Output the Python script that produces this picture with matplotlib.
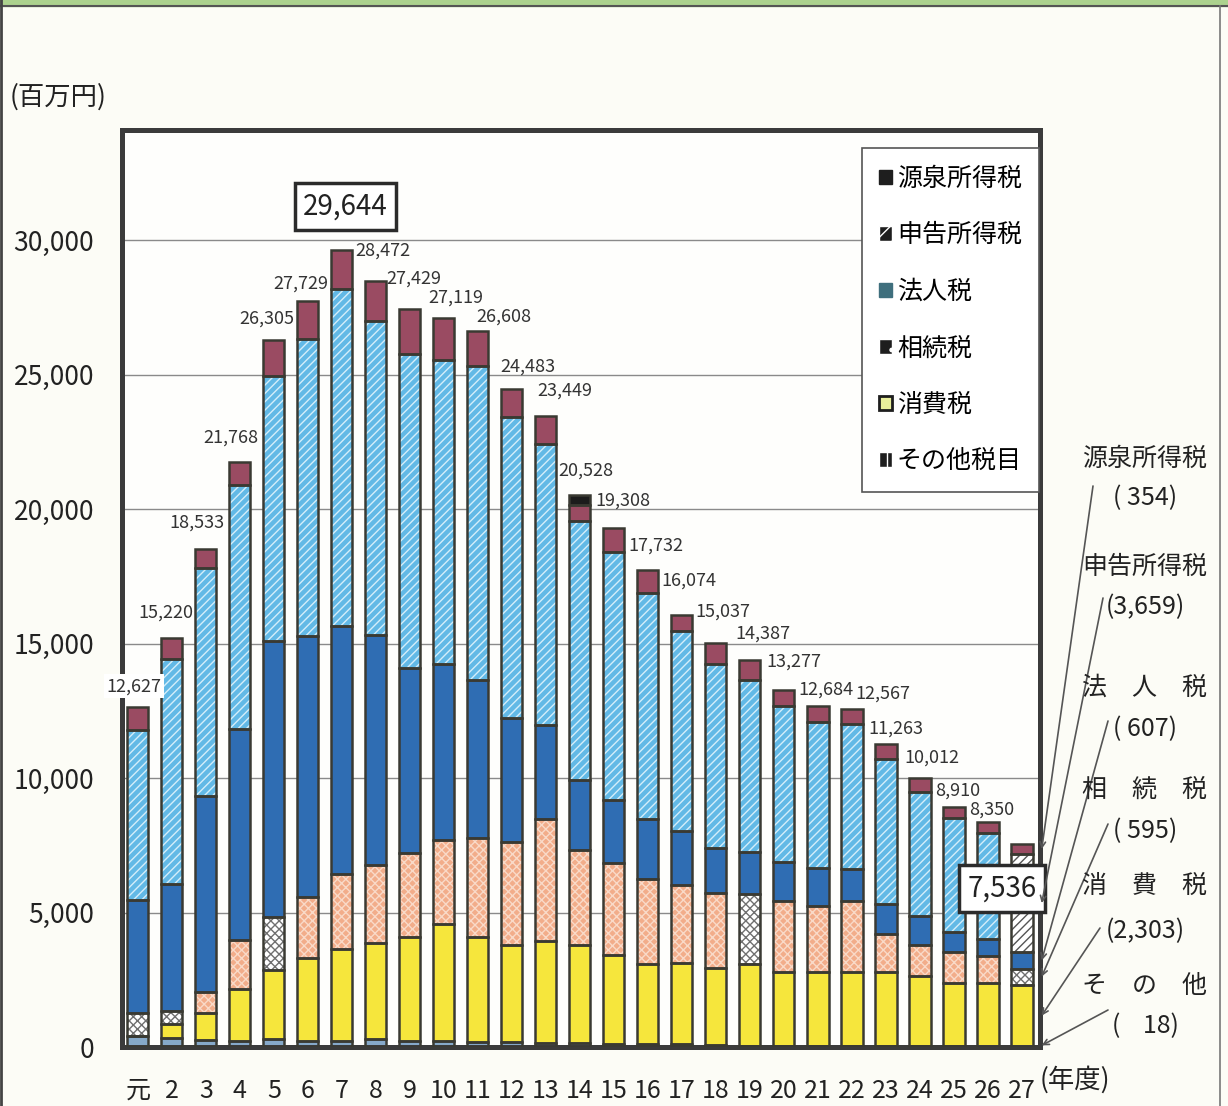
import numpy as np
import matplotlib.pyplot as plt
from matplotlib.patches import Patch, Rectangle
from matplotlib.lines import Line2D

plt.rcParams['font.family'] = ['Noto Sans CJK JP', 'DejaVu Sans']
plt.rcParams['hatch.linewidth'] = 1.0

# 年度 (平成)
years = ['元', '2', '3', '4', '5', '6', '7', '8', '9', '10', '11', '12', '13', '14',
         '15', '16', '17', '18', '19', '20', '21', '22', '23', '24', '25', '26', '27']

# 税目別の税収 (百万円) - 下から順に積み上げ
sonota = [400, 350, 270, 234, 292, 234, 234, 292, 234, 234, 195, 195, 156, 156,
          100, 100, 100, 60, 50, 50, 50, 50, 50, 40, 30, 20, 18]
shohi = [0, 500, 995, 1907, 2588, 3074, 3424, 3561, 3853, 4339, 3892, 3600, 3775, 3639,
         3306, 2975, 3014, 2895, 3052, 2759, 2759, 2759, 2730, 2593, 2369, 2379, 2303]
sozoku = [850, 500, 778, 1848, 1946, 2277, 2764, 2919, 3113, 3114, 3697, 3833, 4534, 3541,
          3444, 3191, 2919, 2780, 2604, 2633, 2443, 2633, 1419, 1171, 1141, 995, 595]
hojin = [4200, 4722, 7298, 7843, 10256, 9691, 9243, 8543, 6909, 6558, 5877, 4593, 3503, 2589,
         2335, 2199, 1985, 1682, 1565, 1434, 1390, 1171, 1126, 1053, 732, 615, 607]
shinkoku = [6323, 8367, 8465, 9049, 9866, 11034, 12513, 11676, 11676, 11287, 11676, 11189, 10450, 9632,
            9205, 8407, 7456, 6833, 6393, 5808, 5428, 5413, 5384, 4609, 4243, 3950, 3659]
gensen = [854, 781, 727, 887, 1357, 1419, 1466, 1481, 1644, 1587, 1271, 1073, 1031, 584,
          918, 860, 600, 787, 723, 593, 614, 541, 554, 546, 395, 391, 354]
# 14年度だけ源泉所得税の上部が黒いまま
gensen_black = [0, 0, 0, 0, 0, 0, 0, 0, 0, 0, 0, 0, 0, 387,
                0, 0, 0, 0, 0, 0, 0, 0, 0, 0, 0, 0, 0]
totals = [12627, 15220, 18533, 21768, 26305, 27729, 29644, 28472, 27429, 27119, 26608, 24483, 23449, 20528,
          19308, 17732, 16074, 15037, 14387, 13277, 12684, 12567, 11263, 10012, 8910, 8350, 7536]

# 右側の注記 (27年度)
note_names = ['源泉所得税', '申告所得税', '法　人　税', '相　続　税', '消　費　税', 'そ　の　他']
note_vals = ['( 354)', '(3,659)', '( 607)', '( 595)', '(2,303)', '(    18)']

# 相続税が白地の点模様になっている年度
dotted_idx = [0, 1, 4, 18, 26]
# 合計ラベルの位置ずらし
label_dx = [-0.12, -0.18, -0.26, -0.26, -0.2, -0.2, 0, 0.2, 0.1, 0.36, 0.76, 0.47, 0.56, 0.18,
            0.26, 0.24, 0.2, 0.2, 0.38, 0.3, 0.22, 0.92, 0.3, 0.35, 0.1, 0.1, 0]
label_dy = [456, 584, 625, 558, 456, 337, 0, 824, 823, 425, 228, 489, 629, 568,
            670, 569, 922, 804, 634, 737, 287, 255, 254, 424, 296, 148, 0]

bg = '#fcfcf6'
edge = '#3a3a32'
fig = plt.figure(figsize=(12.28, 11.06), dpi=100, facecolor=bg)
ax = fig.add_axes([0.0993, 0.0533, 0.7476, 0.8292])
ax.set_facecolor('#fefefc')

x = np.arange(len(years))
w = 0.62


def seg(idx, vals, bottom, fc, hatch=None, hc='white'):
    idx = np.asarray(idx)
    v = np.asarray(vals, dtype=float)[idx]
    b = bottom[idx]
    ax.bar(x[idx], v, w, bottom=b, color=fc, hatch=hatch, edgecolor=hc, linewidth=0, zorder=2)
    ax.bar(x[idx], v, w, bottom=b, fill=False, edgecolor=edge, linewidth=1.8, zorder=3)


allidx = list(range(len(years)))
normal = [i for i in allidx if i not in dotted_idx]
bottom = np.zeros(len(years))

seg(allidx, sonota, bottom, '#86a9c9')
bottom += sonota
seg(allidx, shohi, bottom, '#f6e63c')
bottom += shohi
seg(normal, sozoku, bottom, '#f2ad8a', 'xxxx', '#f9dac8')
seg(dotted_idx, sozoku, bottom, 'white', 'xxxx', '#707070')
bottom += sozoku
seg(allidx, hojin, bottom, '#2f6db3')
bottom += hojin
seg(allidx[:-1], shinkoku, bottom, '#62b9e6', '////', '#d4eefa')
seg([26], shinkoku, bottom, 'white', '////', '#555555')
bottom += shinkoku
seg(allidx, gensen, bottom, '#9a4b62')
bottom += gensen
seg([13], gensen_black, bottom, '#1c1c1c')

ax.set_xlim(-0.47, 26.53)
ax.set_ylim(0, 34100)
ax.set_yticks(range(0, 30001, 5000))
ax.set_yticklabels(['{:,}'.format(v) for v in range(0, 30001, 5000)], fontsize=19, color='#222')
ax.set_xticks(x)
ax.set_xticklabels(years, fontsize=18, color='#222')
ax.tick_params(axis='y', length=0, pad=20)
ax.tick_params(axis='x', length=0, pad=22)
ax.yaxis.grid(True, color='#8a8a8a', lw=1)
ax.set_axisbelow(True)
for s in ax.spines.values():
    s.set_linewidth(3.6)
    s.set_color('#3b3b3b')

# 合計ラベル
for i, t in enumerate(totals):
    if i in (6, 26):
        continue
    kw = {}
    if i == 0:
        kw['bbox'] = dict(boxstyle='square,pad=0.15', fc='white', ec='none')
    ax.text(i + label_dx[i], t + label_dy[i], '{:,}'.format(t), ha='center', va='bottom',
            fontsize=13, color='#333', zorder=6, clip_on=False, **kw)
ax.text(6.1, 31250, '{:,}'.format(totals[6]), ha='center', va='center', fontsize=20, color='#222',
        bbox=dict(boxstyle='square,pad=0.3', fc='white', ec='#2b2b2b', lw=2.5), zorder=6)
ax.text(25.41, 5890, '{:,}'.format(totals[26]), ha='center', va='center', fontsize=20, color='#222',
        bbox=dict(boxstyle='square,pad=0.3', fc='white', ec='#2b2b2b', lw=2.5), zorder=6)

# 凡例
handles = [
    Patch(facecolor='#1e1e1e', edgecolor='#1e1e1e'),
    Patch(facecolor='#1e1e1e', edgecolor='white', hatch='//'),
    Patch(facecolor='#3f6f7d', edgecolor='#3f6f7d'),
    Patch(facecolor='#1e1e1e', edgecolor='white', hatch='.'),
    Patch(facecolor='#e9ef9c', edgecolor='#1e1e1e', lw=2),
    Patch(facecolor='#1e1e1e', edgecolor='white', hatch='||'),
]
labels = ['源泉所得税', '申告所得税', '法人税', '相続税', '消費税', 'その他税目']
leg = ax.legend(handles, labels, loc='upper left', bbox_to_anchor=(0.806, 0.980), borderaxespad=0,
                fontsize=18, handlelength=0.5, handleheight=0.5, handletextpad=0.2,
                labelspacing=1.22, borderpad=0.7, fancybox=False, framealpha=1,
                edgecolor='#555', facecolor='white')
leg.get_frame().set_linewidth(1.2)
leg.set_zorder(7)

# 右側の注記と引出線
H = 1106.0
Wd = 1228.0
name_y = [459, 567, 688, 790, 886, 986]
val_y = [498, 607, 729, 831, 931, 1026]
line_start = [(1093, 486), (1103, 598), (1108, 721), (1108, 824), (1100, 928), (1108, 1010)]
last = np.array([sonota[26], shohi[26], sozoku[26], hojin[26], shinkoku[26], gensen[26]], dtype=float)
mids = (np.cumsum(last) - last / 2)[::-1]
for k in range(6):
    fig.text(1145 / Wd, 1 - name_y[k] / H, note_names[k], ha='center', va='center', fontsize=18, color='#222')
    fig.text(1145 / Wd, 1 - val_y[k] / H, note_vals[k], ha='center', va='center', fontsize=18, color='#222')
    sx, sy = line_start[k]
    ax.annotate('', xy=(26.58, max(mids[k], 60)), xycoords='data',
                xytext=(sx / Wd, 1 - sy / H), textcoords='figure fraction',
                arrowprops=dict(arrowstyle='->', color='#555', lw=1.2, shrinkA=0, shrinkB=0),
                annotation_clip=False, zorder=8)

fig.text(10 / Wd, 1 - 97 / H, '(百万円)', ha='left', va='center', fontsize=19, color='#222')
fig.text(1040 / Wd, 1 - 1080 / H, '(年度)', ha='left', va='center', fontsize=19, color='#222')

# 外枠
fig.add_artist(Rectangle((0, 1 - 6 / H), 1, 6 / H, transform=fig.transFigure, color='#acd28e', zorder=0))
fig.add_artist(Line2D([0, 1], [1 - 6 / H, 1 - 6 / H], transform=fig.transFigure, color='#555', lw=1.5))
fig.add_artist(Line2D([0.001, 0.001], [0, 1], transform=fig.transFigure, color='#444', lw=2))
fig.add_artist(Line2D([1220 / Wd, 1220 / Wd], [0, 1 - 6 / H], transform=fig.transFigure, color='#777', lw=1.2))

fig.savefig('out.png', dpi=100, facecolor=bg)
